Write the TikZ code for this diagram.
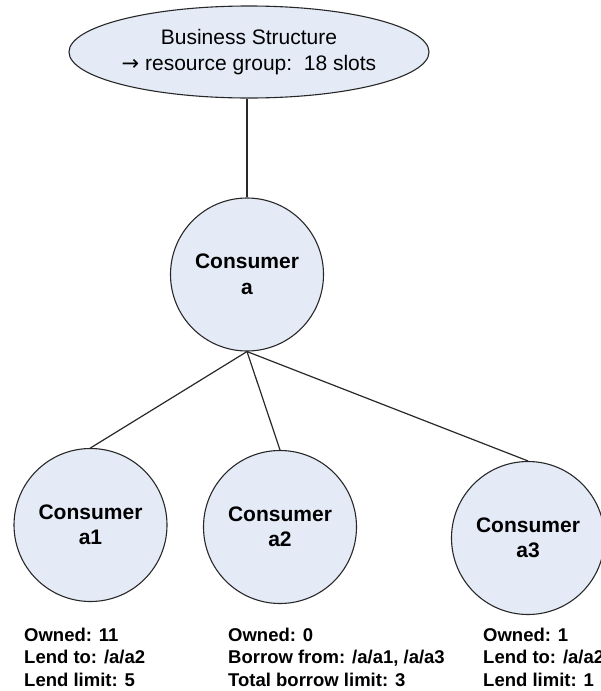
\documentclass[tikz,border=0pt]{standalone}
\usepackage{fontspec}
\setmainfont{Liberation Sans}
\newfontfamily\arrowfont{DejaVu Sans}
\usetikzlibrary{shapes.geometric}
\definecolor{nodefill}{RGB}{228,235,247}
\definecolor{edgegray}{RGB}{40,40,40}
\begin{document}
\begin{tikzpicture}[x=1pt,y=-1pt,
  rootnode/.style={ellipse, draw=edgegray, fill=nodefill, line width=1.1pt,
    minimum width=316pt, minimum height=92pt, inner sep=0pt, align=center,
    font=\fontsize{21}{26}\selectfont},
  consumer/.style={circle, draw=edgegray, fill=nodefill, line width=1.1pt,
    minimum size=153pt, inner sep=0pt, align=center,
    font=\fontsize{21}{25.5}\selectfont\bfseries},
  link/.style={draw=edgegray, line width=1.2pt},
  info/.style={anchor=north west, align=left, inner sep=0pt,
    font=\fontsize{18.5}{22.5}\selectfont\bfseries}]
\useasboundingbox (0,0) rectangle (600,691);

% hierarchy nodes
\node[rootnode] (bs) at (249,52) {Business Structure\\{\arrowfont →} resource group:\ \ 18 slots};
\node[consumer] (ca) at (247,274.5) {Consumer\\a};
\node[consumer] (a1) at (90.5,525) {Consumer\\a1};
\node[consumer] (a2) at (280,527) {Consumer\\a2};
\node[consumer] (a3) at (528,538) {Consumer\\a3};

% connectors
\draw[link] (ca.north) -- (ca.north |- bs.south);
\draw[link] (ca.south) -- (a1.north);
\draw[link] (ca.south) -- (a2.north);
\draw[link] (ca.south) -- (a3.north);

% slot settings under each child consumer
\node[info] (i1) at (24,627.5) {Owned: 11\\Lend to: /a/a2\\Lend limit: 5};
\node[info] (i2) at (228,627.5) {Owned: 0\\Borrow from: /a/a1, /a/a3\\Total borrow limit: 3};
\node[info] (i3) at (483,627.5) {Owned: 1\\Lend to: /a/a2\\Lend limit: 1};
\end{tikzpicture}
\end{document}
